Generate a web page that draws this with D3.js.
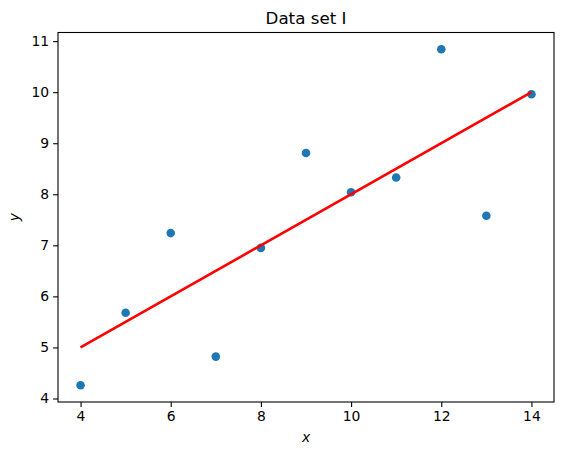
<!DOCTYPE html>
<html>
<head>
<meta charset="utf-8">
<script src="https://cdn.jsdelivr.net/npm/d3@7"></script>
<style>
  body { margin: 0; background: #fff; }
  svg text { font-family: "DejaVu Sans", sans-serif; fill: #000; }
</style>
</head>
<body>
<div id="chart"></div>
<script>
// Anscombe data set I
const xValues = [10, 8, 13, 9, 11, 14, 6, 4, 12, 7, 5];
const yValues = [8.04, 6.95, 7.58, 8.81, 8.33, 9.96, 7.24, 4.26, 10.84, 4.82, 5.68];
// fitted line end points
const fitX = [4, 14];
const fitY = [5.0, 10.0];
const xTicks = [4, 6, 8, 10, 12, 14];
const yTicks = [4, 5, 6, 7, 8, 9, 10, 11];

const width = 564;
const height = 455;
const margin = { top: 32.5, right: 10, bottom: 53, left: 58 };

const svg = d3.select("#chart")
    .append("svg")
    .attr("width", width)
    .attr("height", height);

const x = d3.scaleLinear()
    .domain([3.5, 14.5])
    .range([margin.left, width - margin.right]);

const y = d3.scaleLinear()
    .domain([3.931, 11.169])
    .range([height - margin.bottom, margin.top]);

const points = xValues.map((d, i) => ({ x: d, y: yValues[i] }));

// axes
const xAxis = svg.append("g")
    .attr("transform", `translate(0, ${height - margin.bottom})`)
    .call(d3.axisBottom(x).tickValues(xTicks).tickSize(4.9).tickPadding(4).tickFormat(d3.format("d")));

const yAxis = svg.append("g")
    .attr("transform", `translate(${margin.left}, 0)`)
    .call(d3.axisLeft(y).tickValues(yTicks).tickSize(4.9).tickPadding(4).tickFormat(d3.format("d")));

[xAxis, yAxis].forEach(g => {
    g.select(".domain").remove();
    g.selectAll("line").attr("stroke", "#000").attr("stroke-width", 1.1);
    g.selectAll("text").style("font-size", "13.9px");
});

// frame
svg.append("rect")
    .attr("x", margin.left)
    .attr("y", margin.top)
    .attr("width", width - margin.right - margin.left)
    .attr("height", height - margin.bottom - margin.top)
    .attr("fill", "none")
    .attr("stroke", "#000")
    .attr("stroke-width", 1.1);

// scatter
svg.append("g")
    .selectAll("circle")
    .data(points)
    .enter()
    .append("circle")
    .attr("cx", d => x(d.x))
    .attr("cy", d => y(d.y))
    .attr("r", 4.3)
    .attr("fill", "#1f77b4");

// fit line
const line = d3.line()
    .x(d => x(d[0]))
    .y(d => y(d[1]));

svg.append("path")
    .datum(fitX.map((d, i) => [d, fitY[i]]))
    .attr("fill", "none")
    .attr("stroke", "red")
    .attr("stroke-width", 2.6)
    .attr("d", line);

// title and labels
svg.append("text")
    .attr("x", (margin.left + width - margin.right) / 2)
    .attr("y", margin.top - 8.5)
    .attr("text-anchor", "middle")
    .style("font-size", "16.7px")
    .text("Data set I");

svg.append("text")
    .attr("x", (margin.left + width - margin.right) / 2)
    .attr("y", 442)
    .attr("text-anchor", "middle")
    .style("font-size", "13.9px")
    .style("font-style", "italic")
    .text("x");

svg.append("text")
    .attr("transform", `translate(19, ${(margin.top + height - margin.bottom) / 2}) rotate(-90)`)
    .attr("text-anchor", "middle")
    .style("font-size", "13.9px")
    .style("font-style", "italic")
    .text("y");
</script>
</body>
</html>
